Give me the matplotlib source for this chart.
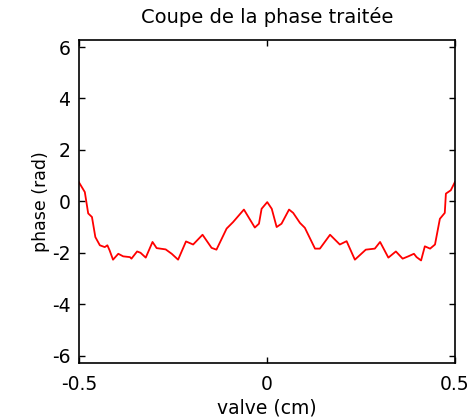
import numpy as np
import matplotlib.pyplot as plt

# profile: position (cm) and phase (rad)
valve = [-0.500, -0.484, -0.475, -0.465, -0.456, -0.444, -0.431, -0.424, -0.418, -0.409,
         -0.395, -0.382, -0.364, -0.360, -0.345, -0.336, -0.322, -0.304, -0.293, -0.269,
         -0.253, -0.236, -0.215, -0.196, -0.171, -0.147, -0.134, -0.107, -0.090, -0.061,
         -0.032, -0.021, -0.014, 0.001, 0.013, 0.026, 0.039, 0.059, 0.070, 0.088,
         0.101, 0.128, 0.141, 0.168, 0.194, 0.212, 0.234, 0.263, 0.287, 0.301,
         0.323, 0.343, 0.361, 0.376, 0.391, 0.398, 0.410, 0.420, 0.434, 0.447,
         0.460, 0.473, 0.476, 0.489, 0.500]
phase = [0.75, 0.36, -0.47, -0.61, -1.39, -1.71, -1.78, -1.71, -1.91, -2.27,
         -2.04, -2.14, -2.17, -2.23, -1.95, -2.00, -2.19, -1.58, -1.82, -1.87,
         -2.04, -2.27, -1.56, -1.68, -1.30, -1.81, -1.88, -1.06, -0.81, -0.32,
         -1.02, -0.87, -0.29, -0.03, -0.29, -1.00, -0.87, -0.32, -0.45, -0.84,
         -1.03, -1.84, -1.84, -1.30, -1.68, -1.55, -2.27, -1.88, -1.84, -1.58,
         -2.19, -1.95, -2.23, -2.14, -2.04, -2.17, -2.30, -1.75, -1.84, -1.68,
         -0.68, -0.45, 0.30, 0.43, 0.75]

xticks = [-0.5, 0, 0.5]
xticklabels = ["-0.5", "0", "0.5"]
yticks = [-6, -4, -2, 0, 2, 4, 6]

plt.rcParams['font.family'] = ['DejaVu Sans']
plt.rcParams['axes.unicode_minus'] = False

fig = plt.figure(figsize=(4.69, 4.19), dpi=100)
ax = fig.add_axes([0.168, 0.134, 0.802, 0.771])
ax.plot(valve, phase, color='red', linewidth=1.3)

ax.set_xlim(-0.5, 0.5)
ax.set_ylim(-2 * np.pi, 2 * np.pi)
ax.set_xticks(xticks)
ax.set_xticklabels(xticklabels)
ax.set_yticks(yticks)
ax.tick_params(direction='in', top=True, right=True, length=4, width=1,
               labelsize=13.5)
ax.tick_params(axis='x', pad=8.5)
ax.tick_params(axis='y', pad=6)
for s in ax.spines.values():
    s.set_linewidth(1.2)

ax.set_title("Coupe de la phase traitée", fontsize=14, pad=12)
ax.set_xlabel("valve (cm)", fontsize=13.5, labelpad=3.5)
ax.set_ylabel("phase (rad)", fontsize=12.5, labelpad=1.5)

fig.savefig("out.png", dpi=100)
